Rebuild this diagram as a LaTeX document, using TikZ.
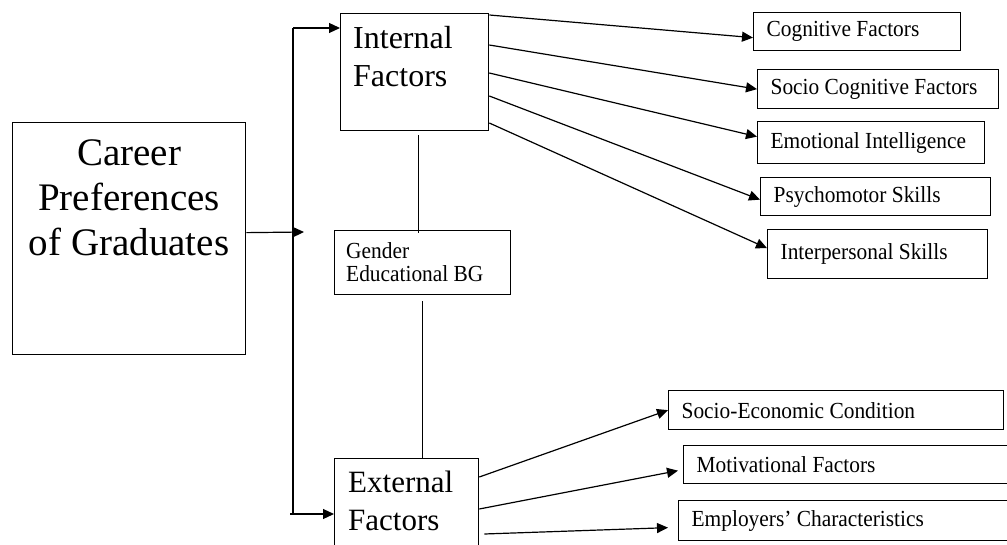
\documentclass[tikz,border=0pt]{standalone}
\usepackage{fontspec}
\setmainfont{Liberation Serif}
\newfontfamily\narrowserif[FakeStretch=0.93]{Liberation Serif}
\usetikzlibrary{arrows.meta}

\begin{document}
\begin{tikzpicture}[x=1pt, y=-1pt,
  box/.style={draw, line width=1.3pt, inner sep=0pt, anchor=north west},
  factor/.style={draw, line width=1.3pt, anchor=north west, inner xsep=13pt, inner ysep=0pt, align=flush left, font=\narrowserif\fontsize{23}{25}\selectfont},
  txt/.style={inner sep=0pt},
  conn/.style={line width=1.2pt},
  arr/.style={line width=1.2pt, -{Triangle[length=11pt,width=10pt]}}]
\useasboundingbox (0,0) rectangle (1007,545);
\clip (0,0) rectangle (1007,545);
% boxes
\node[box, minimum width=233, minimum height=232] (career) at (12,122) {};
\node[box, minimum width=148, minimum height=117] (int) at (340,13) {};
\node[box, minimum width=176, minimum height=64] (gen) at (334,230) {};
\node[box, minimum width=144, minimum height=120] (ext) at (334,458) {};
% labels
\node[txt, anchor=north, align=flush center, font=\fontsize{39}{45}\selectfont] (careertxt) at ([yshift=-17pt]career.north) {Career\\Preferences\\of Graduates};
\node[txt, anchor=north west, align=flush left, font=\fontsize{32}{38}\selectfont] (inttxt) at ([xshift=13pt,yshift=-13pt]int.north west) {Internal\\Factors};
\node[txt, anchor=north west, align=flush left, font=\narrowserif\fontsize{23}{23}\selectfont] (gentxt) at ([xshift=12pt,yshift=-12pt]gen.north west) {Gender\\Educational BG};
\node[txt, anchor=north west, align=flush left, font=\fontsize{31}{38}\selectfont] (exttxt) at ([xshift=14pt,yshift=-13pt]ext.north west) {External\\Factors};
% factors
\node[factor, text width=181, minimum height=38] (cog) at (753,12) {Cognitive Factors};
\node[factor, text width=215, minimum height=39] (scog) at (757,69) {Socio Cognitive Factors};
\node[factor, text width=201, minimum height=42] (emo) at (757,121) {Emotional Intelligence};
\node[factor, text width=204, minimum height=38] (psy) at (760,177) {Psychomotor Skills};
\node[factor, text width=194, minimum height=49] (inter) at (767,229) {Interpersonal Skills};
\node[factor, text width=309, minimum height=39] (secon) at (668,390) {Socio-Economic Condition};
\node[factor, text width=314, minimum height=38] (motiv) at (683,445) {Motivational Factors};
\node[factor, text width=319, minimum height=40] (empl) at (678,500) {Employers’ Characteristics};
% bus
\coordinate (bustop) at (293,28);
\coordinate (busbot) at (293,514);
\coordinate (hub) at (304,232);
\draw[conn] (bustop) -- (busbot);
\draw[arr] ([yshift=6pt]career.east) -- (hub);
\draw[arr] (bustop) -- (int.west |- bustop);
\draw[arr] ([xshift=-3pt]busbot) -- (ext.west |- busbot);
% lines
\draw[conn] ([xshift=4pt,yshift=-4pt]int.south) -- ++(0,98);
\draw[conn] ([yshift=-6pt]gen.south) -- (gen.south |- ext.north);
% arrows
\draw[arr] ([yshift=-2pt]int.north east) -- ([yshift=-6pt]cog.west);
\draw[arr] ([yshift=-32pt]int.north east) -- (scog.west);
\draw[arr] ([yshift=-60pt]int.north east) -- ([yshift=6pt]emo.west);
\draw[arr] ([yshift=-83pt]int.north east) -- ([yshift=-3pt]psy.west);
\draw[arr] ([yshift=-110pt]int.north east) -- ([yshift=6pt]inter.west);
\draw[arr] ([yshift=-19pt]ext.north east) -- (secon.west);
\draw[arr] ([yshift=-51pt]ext.north east) -- ([xshift=-5pt,yshift=-6pt]motiv.west);
\draw[arr] ([xshift=5pt,yshift=-76pt]ext.north east) -- ([xshift=-10pt,yshift=-7pt]empl.west);
\end{tikzpicture}
\end{document}
